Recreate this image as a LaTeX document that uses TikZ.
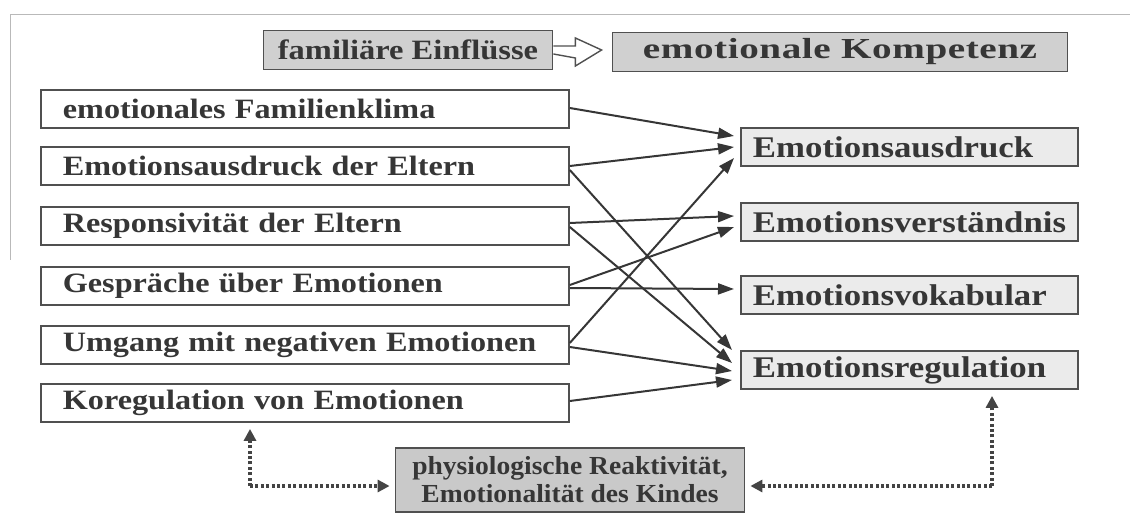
\documentclass[tikz,border=0pt]{standalone}
\usepackage{fontspec}
\setmainfont{Liberation Serif}
\newfontfamily\lfont[FakeStretch=1.15]{Liberation Serif}
\newfontfamily\rfont[FakeStretch=1.16]{Liberation Serif}
\newfontfamily\ffont[FakeStretch=1.16]{Liberation Serif}
\newfontfamily\kfont[FakeStretch=1.35,LetterSpace=2]{Liberation Serif}
\newfontfamily\bfont[FakeStretch=1.06]{Liberation Serif}
\usetikzlibrary{arrows.meta,calc}
\definecolor{ink}{HTML}{363636}
\definecolor{edge}{HTML}{505050}
\definecolor{dotc}{HTML}{444444}
\definecolor{topfill}{HTML}{D0D0D0}
\definecolor{rightfill}{HTML}{EBEBEB}
\definecolor{botfill}{HTML}{C9C9C9}
\begin{document}
\begin{tikzpicture}[x=1pt,y=-1pt,
  every node/.style={text=ink},
  box/.style={draw=edge, line width=1.8pt, inner ysep=0pt, minimum height=38pt},
  lbox/.style={box, fill=white, anchor=west, inner xsep=22pt, text width=484pt, align=left,
               font=\lfont\fontsize{28}{30}\selectfont\bfseries},
  rbox/.style={box, fill=rightfill, anchor=west, inner xsep=12pt, text width=313pt, align=left,
               font=\rfont\fontsize{30}{32}\selectfont\bfseries},
  tbox/.style={box, fill=topfill, minimum height=39pt},
  conn/.style={draw=ink, line width=2pt, -{Triangle[length=16pt,width=11pt]}},
  dots/.style={draw=dotc, line width=3.2pt, dash pattern=on 3pt off 2.4pt},
  dothead/.style={-{Triangle[length=12pt,width=12pt]}}
]
\useasboundingbox (0,0) rectangle (1130,529);
% faint scan frame
\draw[gray!55, line width=0.8pt] (10,260) -- (10,14) -- (1130,14);

% top boxes
\node[tbox, minimum width=289pt, font=\ffont\fontsize{28}{30}\selectfont\bfseries] (fam) at (408,50) {familiäre Einflüsse};
\node[tbox, minimum width=455pt, font=\kfont\fontsize{29}{31}\selectfont\bfseries] (komp) at (840,52) {emotionale Kompetenz};
\draw[edge, line width=1.4pt, fill=white, line join=miter]
  ($(fam.east)+(0,-4)$) -- ++(22,0) -- ++(0,-8) -- ($(komp.west)+(-10,-2)$)
  -- ($(fam.east)+(22,16)$) -- ++(0,-8) -- ($(fam.east)+(0,4)$);

% left boxes
\node[lbox] (b1) at (40,109) {emotionales Familienklima};
\node[lbox] (b2) at (40,166) {Emotionsausdruck der Eltern};
\node[lbox] (b3) at (40,226) {Responsivität der Eltern};
\node[lbox] (b4) at (40,286) {Gespräche über Emotionen};
\node[lbox] (b5) at (40,345) {Umgang mit negativen Emotionen};
\node[lbox] (b6) at (40,403) {Koregulation von Emotionen};

% right boxes
\node[rbox] (r1) at (740,147) {Emotionsausdruck};
\node[rbox] (r2) at (740,222) {Emotionsverständnis};
\node[rbox] (r3) at (740,295) {Emotionsvokabular};
\node[rbox] (r4) at (740,370) {Emotionsregulation};

% bottom box
\node[box, fill=botfill, minimum width=349pt, minimum height=64pt, align=center,
      font=\bfont\fontsize{26}{28}\selectfont\bfseries] (phys) at (570,480)
  {physiologische Reaktivität,\\Emotionalität des Kindes};

% connectors (yshift is in canvas direction: positive = up)
\draw[conn] ([yshift=1pt]b1.east) -- ([xshift=-6pt,yshift=11pt]r1.west);
\draw[conn] ([yshift=0pt]b2.east) -- ([xshift=-6pt,yshift=0pt]r1.west);
\draw[conn] ([yshift=-4pt]b2.east) -- ([xshift=-8pt,yshift=20pt]r4.west);
\draw[conn] ([yshift=3pt]b3.east) -- ([xshift=-6pt,yshift=6pt]r2.west);
\draw[conn] ([yshift=-1pt]b3.east) -- ([xshift=-8pt,yshift=7pt]r4.west);
\draw[conn] ([yshift=1pt]b4.east) -- ([xshift=-6pt,yshift=-5pt]r2.west);
\draw[conn] ([yshift=-2pt]b4.east) -- ([xshift=-6pt,yshift=6pt]r3.west);
\draw[conn] ([yshift=2pt]b5.east) -- ([xshift=-6pt,yshift=-11pt]r1.west);
\draw[conn] ([yshift=-2pt]b5.east) -- ([xshift=-8pt,yshift=-1pt]r4.west);
\draw[conn] ([yshift=2pt]b6.east) -- ([xshift=-8pt,yshift=-10pt]r4.west);

% dotted feedback connectors
\coordinate (lc) at (250,486);
\coordinate (rc) at (992,486);
\draw[dots, dothead] (lc) -- ([yshift=-6pt]b6.south -| lc);
\draw[dots, dothead] (lc) -- ([xshift=-5pt]phys.west |- lc);
\draw[dots, dothead] (rc) -- ([yshift=-6pt]r4.south -| rc);
\draw[dots, dothead] (rc) -- ([xshift=5pt]phys.east |- rc);
\end{tikzpicture}
\end{document}
